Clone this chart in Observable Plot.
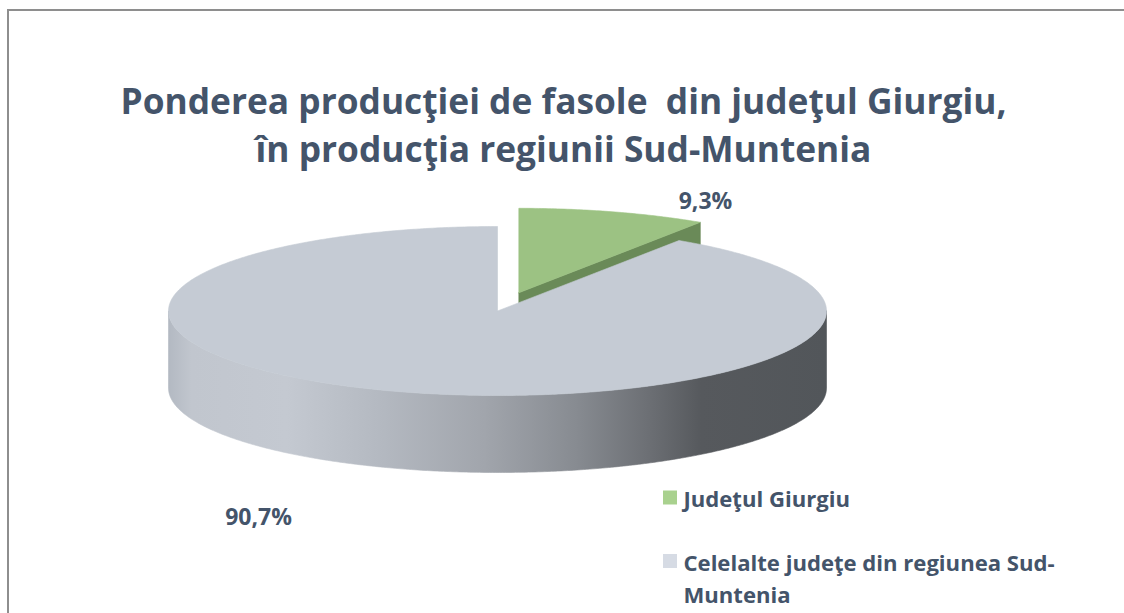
<!DOCTYPE html>
<html>
<head>
<meta charset="utf-8">
<script src="https://cdn.jsdelivr.net/npm/d3@7"></script>
<script src="https://cdn.jsdelivr.net/npm/@observablehq/plot@0.6"></script>
<style>
  html, body { margin: 0; padding: 0; background: #ffffff; }
  #wrap { position: relative; width: 1124px; height: 613px; overflow: hidden; }
  #frame { position: absolute; left: 7px; top: 9px; width: 1300px; height: 800px;
           border-left: 2px solid #8e8e8e; border-top: 2px solid #8e8e8e; pointer-events: none; }
  svg { display: block; }
</style>
</head>
<body>
<div id="wrap"><div id="frame"></div></div>
<script>
// ---------------- data ----------------
const categories = ["Judeţul Giurgiu", "Celelalte judeţe din regiunea Sud-Muntenia"];
const values = [9.3, 90.7];
const valueLabels = ["9,3%", "90,7%"];
const legendLabels = ["Judeţul Giurgiu", "Celelalte judeţe din regiunea Sud-\nMuntenia"];
const titleLines = ["Ponderea producţiei de fasole  din judeţul Giurgiu,", "în producţia regiunii Sud-Muntenia"];
const topColors = ["#9cc283", "#c5cbd4"];
const sideColors = ["#6a8a58", "url(#wallGrad)"];
const legendColors = ["#a9d18e", "#d6dbe4"];
const explodes = [0.225, 0];

// ---------------- layout ----------------
const W = 1124, H = 613;
const CX = 497, CY = 310.5, R = 329;        // pixel centre & radius of the pie
const TILT = 84.5 / R, DEPTH = 77 / R;       // ellipse flattening and thickness
const X = px => (px - CX) / R;               // pixel -> data units
const Y = py => (CY - py) / R;
const textColor = "#44546a";
const font = "'Open Sans', Lato, sans-serif";

// ---------------- geometry from values ----------------
const total = d3.sum(values);
let acc = 0;
const slices = values.map((v, i) => {
  const a0 = acc / total * 2 * Math.PI;
  acc += v;
  const a1 = acc / total * 2 * Math.PI;
  const mid = (a0 + a1) / 2;
  const ox = explodes[i] * Math.sin(mid), oy = explodes[i] * TILT * Math.cos(mid);
  return {i, a0, a1, ox, oy};
});
const pt = (s, a, dz = 0) => ({x: s.ox + Math.sin(a), y: s.oy + TILT * Math.cos(a) - dz});
const arc = (s, a0, a1, dz = 0) => {
  const n = Math.max(2, Math.ceil((a1 - a0) / 0.01));
  return d3.range(n + 1).map(k => pt(s, a0 + (a1 - a0) * k / n, dz));
};
const centre = (s, dz = 0) => ({x: s.ox, y: s.oy - dz});

function topFace(s) { return [centre(s), ...arc(s, s.a0, s.a1), centre(s)]; }
function sideFaces(s) {
  const faces = [];
  if (Math.sin(s.a1) > 1e-6) {
    const p = pt(s, s.a1), q = pt(s, s.a1, DEPTH);
    faces.push([centre(s), p, q, centre(s, DEPTH), centre(s)]);
  }
  if (Math.sin(s.a0) < -1e-6) {
    const p = pt(s, s.a0), q = pt(s, s.a0, DEPTH);
    faces.push([centre(s), p, q, centre(s, DEPTH), centre(s)]);
  }
  const w0 = Math.max(s.a0, Math.PI / 2), w1 = Math.min(s.a1, 3 * Math.PI / 2);
  if (w1 > w0) {
    const top = arc(s, w0, w1), bottom = arc(s, w0, w1, DEPTH).reverse();
    faces.push([...top, ...bottom, top[0]]);
  }
  return faces;
}

const gradientMark = () => {
  const ns = "http://www.w3.org/2000/svg";
  const defs = document.createElementNS(ns, "defs");
  const g = document.createElementNS(ns, "linearGradient");
  g.setAttribute("id", "wallGrad");
  g.setAttribute("x1", "0"); g.setAttribute("x2", "1");
  g.setAttribute("y1", "0"); g.setAttribute("y2", "0");
  [[0, "#b3b9c2"], [0.035, "#c1c6ce"], [0.18, "#c4c9d1"], [0.32, "#b4b9c1"],
   [0.48, "#a1a5ac"], [0.62, "#878b91"], [0.73, "#6c6f74"], [0.81, "#56595d"], [1, "#52565a"]]
    .forEach(([o, c]) => {
      const st = document.createElementNS(ns, "stop");
      st.setAttribute("offset", o); st.setAttribute("stop-color", c);
      g.appendChild(st);
    });
  defs.appendChild(g);
  return defs;
};

const pieMarks = [];
for (const s of slices) {
  for (const f of sideFaces(s)) {
    pieMarks.push(Plot.line(f, {x: "x", y: "y", fill: sideColors[s.i], stroke: sideColors[s.i], strokeWidth: 0.6, curve: "linear"}));
  }
  pieMarks.push(Plot.line(topFace(s), {x: "x", y: "y", fill: topColors[s.i], stroke: topColors[s.i], strokeWidth: 0.6, curve: "linear"}));
}

const titleData = titleLines.map((t, k) => ({t, x: X(W / 2 + 1), y: Y(88 + k * 48)}));
const labelData = [
  {t: valueLabels[0], x: X(705), y: Y(192)},
  {t: valueLabels[1], x: X(258), y: Y(508)}
];
const legendData = legendLabels.map((t, k) => ({t, k, sx: X(669.5), sy: Y(497 + k * 63.5), tx: X(683), ty: Y(484 + k * 64)}));

const chart = Plot.plot({
  width: W, height: H,
  margin: 0,
  x: {domain: [X(0), X(W)], axis: null},
  y: {domain: [Y(H), Y(0)], axis: null},
  style: {background: "transparent", fontFamily: font},
  marks: [
    gradientMark,
    ...pieMarks,
    Plot.text(titleData, {x: "x", y: "y", text: "t", lineAnchor: "top", fontSize: 35.3, fontWeight: "bold", fill: textColor}),
    Plot.text(labelData, {x: "x", y: "y", text: "t", lineAnchor: "top", fontSize: 23, fontWeight: "bold", fill: textColor}),
    Plot.dot(legendData, {x: "sx", y: "sy", symbol: "square", r: 7.9, fill: (d) => legendColors[d.k], stroke: null}),
    Plot.text(legendData, {x: "tx", y: "ty", text: "t", textAnchor: "start", lineAnchor: "top", lineHeight: 1.45, fontSize: 22.1, fontWeight: "bold", fill: textColor})
  ]
});
document.getElementById("wrap").prepend(chart);
</script>
</body>
</html>
